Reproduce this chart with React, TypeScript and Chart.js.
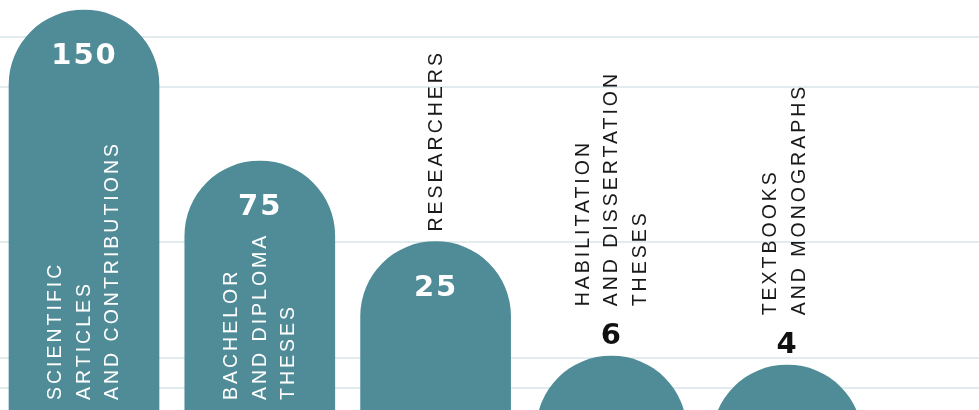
import React, { useEffect, useRef } from "react";
import { Chart, registerables } from "chart.js";

Chart.register(...registerables);

// Category labels (each entry split into its printed lines)
const categories: string[][] = [
  ["SCIENTIFIC", "ARTICLES", "AND CONTRIBUTIONS"],
  ["BACHELOR", "AND DIPLOMA", "THESES"],
  ["RESEARCHERS"],
  ["HABILITATION", "AND DISSERTATION", "THESES"],
  ["TEXTBOOKS", "AND MONOGRAPHS"],
];
// Printed values
const values: number[] = [150, 75, 25, 6, 4];
// Drawn bar heights (infographic scale, not proportional to the values)
const barHeights: number[] = [400, 249, 168.5, 54, 45];
// Decorative horizontal guide lines (same scale as barHeights)
const gridValues: number[] = [22, 52.3, 168.5, 323.3, 372.7];

const BAR_COLOR = "#4f8c98";
const GRID_COLOR = "#e2ecee";

const labelPlugin = {
  id: "barLabels",
  afterDatasetsDraw(chart: any) {
    const ctx: CanvasRenderingContext2D = chart.ctx;
    const meta = chart.getDatasetMeta(0);
    const area = chart.chartArea;
    meta.data.forEach((bar: any, i: number) => {
      const x = bar.x;
      const top = bar.y;
      const h = area.bottom - top;
      const numInside = h > 100;
      const catInside = h > 200;

      // value
      const numSize = 29;
      const numCap = numSize * 0.729;
      const numSpacing = 2;
      const numCenterY = numInside ? top + 43.5 : top - 12.5 - numCap / 2;
      ctx.save();
      ctx.font = `bold ${numSize}px 'DejaVu Sans'`;
      (ctx as any).letterSpacing = `${numSpacing}px`;
      ctx.textAlign = "center";
      ctx.textBaseline = "alphabetic";
      ctx.fillStyle = numInside ? "#ffffff" : "#111111";
      ctx.fillText(String(values[i]), x + numSpacing / 2 - 0.5, numCenterY + numCap / 2);
      ctx.restore();

      // category
      const lines = categories[i];
      let startY: number;
      if (catInside) startY = area.bottom - 10;
      else if (numInside) startY = top - 10;
      else startY = numCenterY - numCap / 2 - 16;
      const catSize = 19.5;
      const capH = catSize * 0.716;
      ctx.save();
      ctx.font = `${catSize}px 'Liberation Sans'`;
      (ctx as any).letterSpacing = "3px";
      ctx.fillStyle = catInside ? "#ffffff" : "#1a1a1a";
      ctx.textAlign = "left";
      ctx.textBaseline = "alphabetic";
      lines.forEach((line, j) => {
        const cx = x + (j - (lines.length - 1) / 2) * 28.5 - 1 - (lines.length === 2 ? 2.5 : 0);
        ctx.save();
        ctx.translate(cx, startY);
        ctx.rotate(-Math.PI / 2);
        ctx.fillText(line, 0, capH / 2);
        ctx.restore();
      });
      ctx.restore();
    });
  },
};

export default function App() {
  const canvasRef = useRef<HTMLCanvasElement | null>(null);

  useEffect(() => {
    if (!canvasRef.current) return;
    const pitch = 175.8;
    const firstCenter = 84;
    const width = 979;
    const chart = new Chart(canvasRef.current, {
      type: "bar",
      data: {
        datasets: [
          {
            data: barHeights.map((v, i) => ({ x: i, y: v })),
            backgroundColor: BAR_COLOR,
            borderWidth: 0,
            borderSkipped: "bottom",
            borderRadius: { topLeft: 75, topRight: 75, bottomLeft: 0, bottomRight: 0 },
            barThickness: 150,
            base: -300,
          } as any,
        ],
      },
      options: {
        animation: false,
        responsive: true,
        maintainAspectRatio: false,
        layout: { padding: 0 },
        plugins: {
          legend: { display: false },
          tooltip: { enabled: false },
          title: { display: false },
        },
        scales: {
          x: {
            type: "linear",
            display: false,
            offset: false,
            bounds: "data",
            min: -firstCenter / pitch,
            max: (width - firstCenter) / pitch,
          },
          y: {
            type: "linear",
            min: 0,
            max: 410,
            display: true,
            border: { display: false },
            grid: { color: GRID_COLOR, lineWidth: 2, drawTicks: false },
            ticks: { display: false },
            afterBuildTicks: (scale: any) => {
              scale.ticks = gridValues.map((v) => ({ value: v }));
            },
          },
        },
      } as any,
      plugins: [labelPlugin],
    });
    return () => chart.destroy();
  }, []);

  return (
    <div style={{ position: "fixed", left: 0, top: 0, width: 979, height: 410, background: "#ffffff" }}>
      <canvas ref={canvasRef} />
    </div>
  );
}
